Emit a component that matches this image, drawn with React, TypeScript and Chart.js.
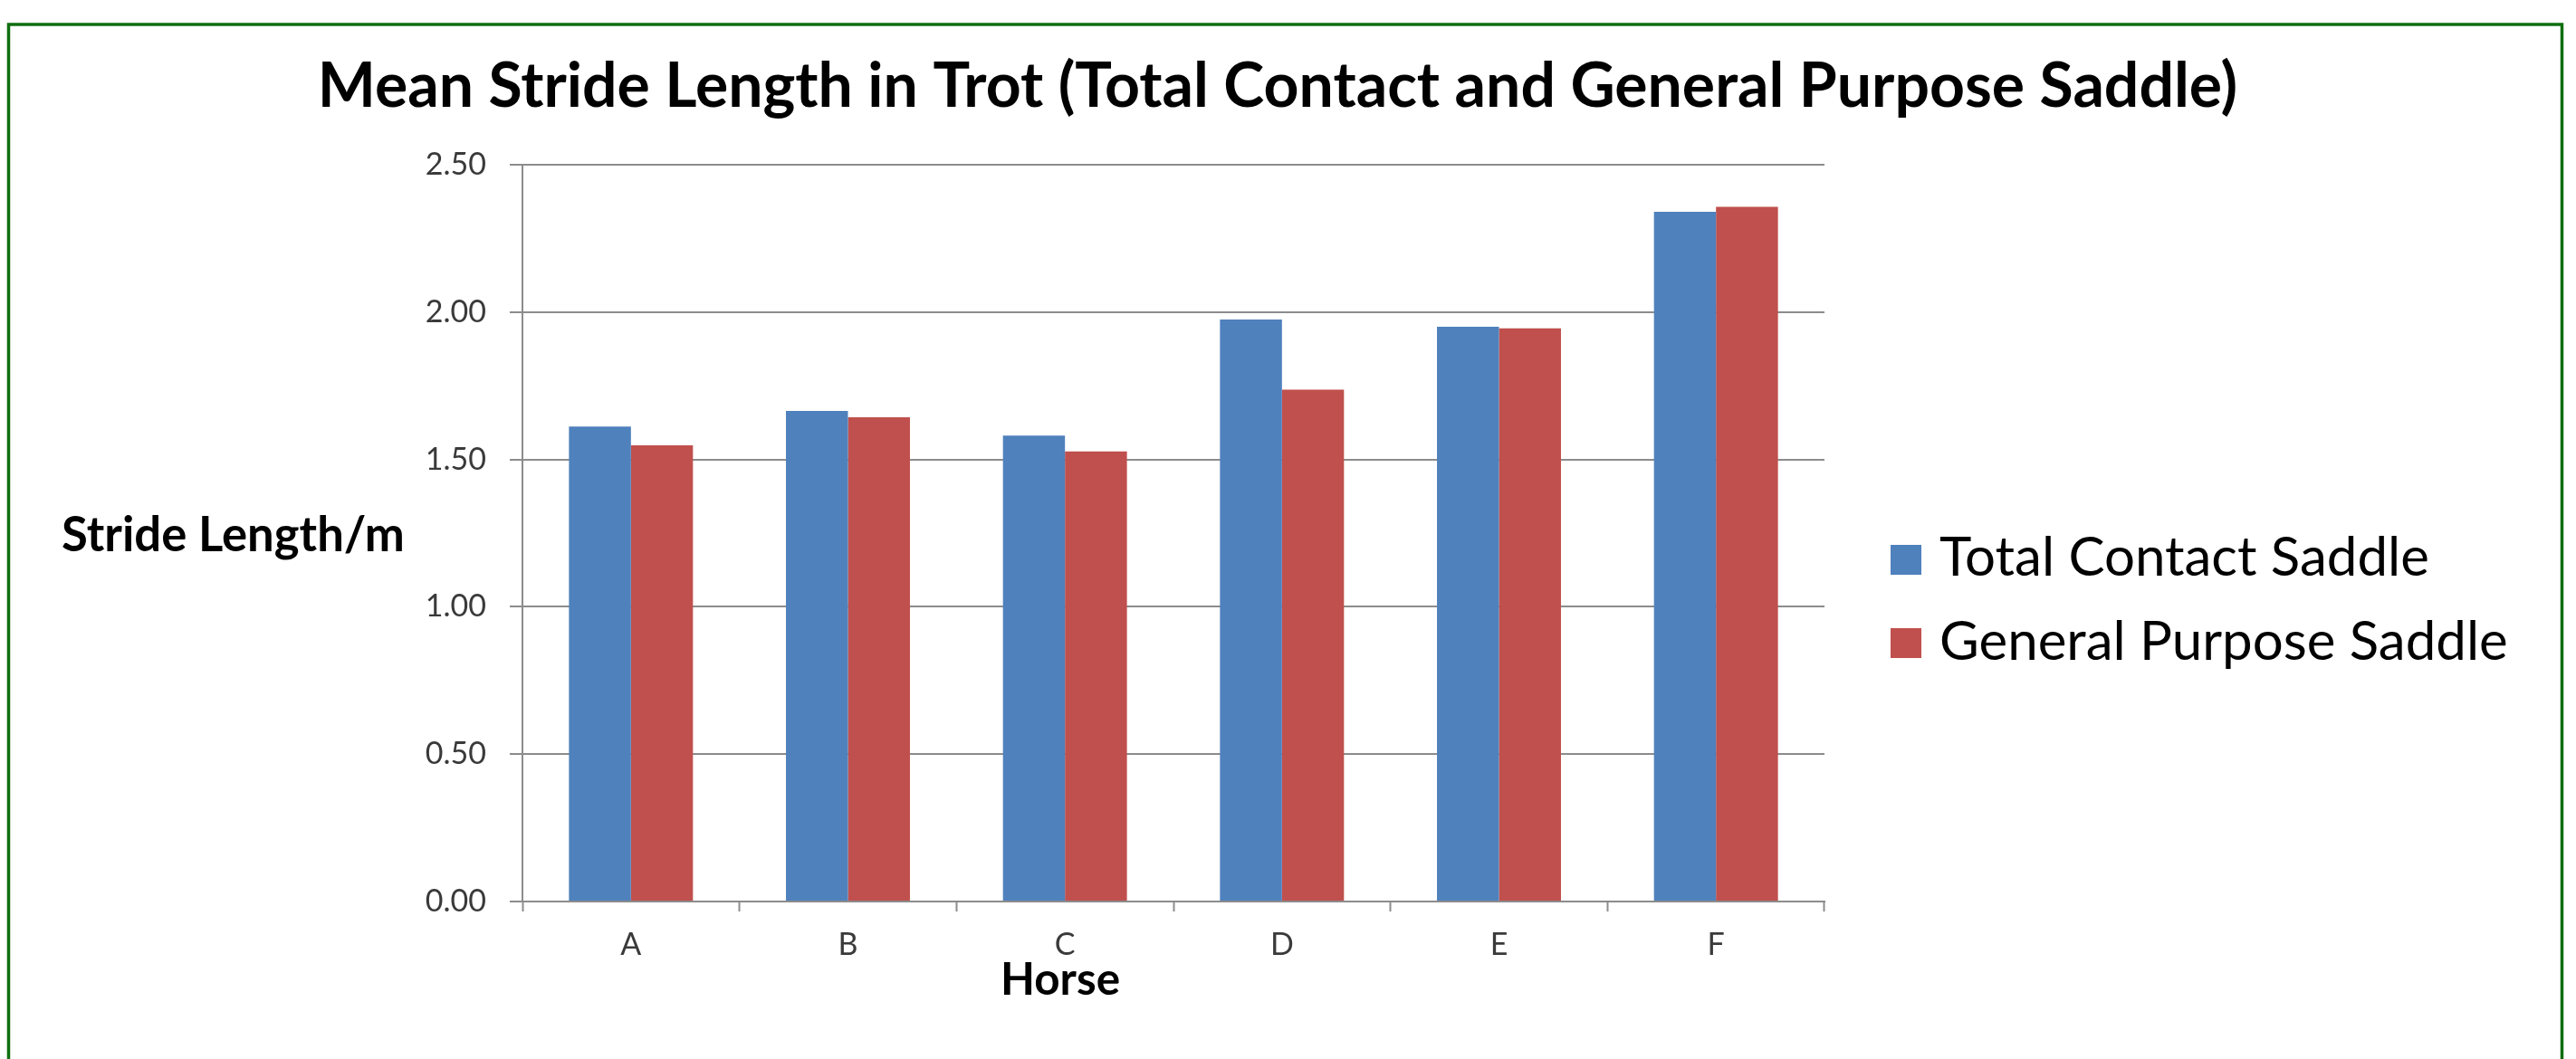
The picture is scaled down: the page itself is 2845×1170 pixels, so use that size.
import React, { useEffect, useRef } from "react";
import { Chart, registerables } from "chart.js";

Chart.register(...registerables);

const TITLE = "Mean Stride Length in Trot (Total Contact and General Purpose Saddle)";
const Y_TITLE = "Stride Length/m";
const X_TITLE = "Horse";
const horses = ["A", "B", "C", "D", "E", "F"];
const seriesNames = ["Total Contact Saddle", "General Purpose Saddle"];
const totalContact = [1.612, 1.665, 1.581, 1.975, 1.95, 2.34];
const generalPurpose = [1.548, 1.643, 1.527, 1.737, 1.945, 2.357];
const seriesColors = ["#4F81BD", "#C0504D"];
const yMin = 0;
const yMax = 2.5;
const yStep = 0.5;

const FONT = "Lato, 'Open Sans', 'DejaVu Sans', sans-serif";

function fitSize(ctx: CanvasRenderingContext2D, text: string, weight: string, target: number) {
  ctx.font = `${weight} 100px ${FONT}`;
  const w = ctx.measureText(text).width;
  return (100 * target) / w;
}

export default function App() {
  const ref = useRef<HTMLCanvasElement>(null);

  useEffect(() => {
    const canvas = ref.current;
    if (!canvas) return;

    const decor = {
      id: "decor",
      beforeDraw(chart: any) {
        const ctx: CanvasRenderingContext2D = chart.ctx;
        ctx.save();
        ctx.fillStyle = "#ffffff";
        ctx.fillRect(0, 0, chart.width, chart.height);
        ctx.strokeStyle = "#0f6e0f";
        ctx.lineWidth = 3.5;
        ctx.strokeRect(9.5, 27, 2820, 1300);
        ctx.restore();
      },
      afterDraw(chart: any) {
        const ctx: CanvasRenderingContext2D = chart.ctx;
        ctx.save();
        ctx.fillStyle = "#000000";
        ctx.textBaseline = "alphabetic";

        // main title
        let s = fitSize(ctx, TITLE, "bold", 2121);
        ctx.font = `bold ${s}px ${FONT}`;
        ctx.textAlign = "center";
        ctx.fillText(TITLE, 1411, 118);

        // y axis title (horizontal)
        s = fitSize(ctx, Y_TITLE, "bold", 379);
        ctx.font = `bold ${s}px ${FONT}`;
        ctx.textAlign = "left";
        ctx.fillText(Y_TITLE, 68, 609);

        // x axis title
        s = fitSize(ctx, X_TITLE, "bold", 132);
        ctx.font = `bold ${s}px ${FONT}`;
        ctx.textAlign = "center";
        ctx.fillText(X_TITLE, 1171, 1099);

        // legend
        const ls = fitSize(ctx, chart.data.datasets[0].label, "normal", 541);
        ctx.font = `normal ${ls}px ${FONT}`;
        ctx.textAlign = "left";
        const rows = [
          { boxTop: 602, base: 636 },
          { boxTop: 694, base: 729 },
        ];
        chart.data.datasets.forEach((ds: any, i: number) => {
          const r = rows[i];
          ctx.fillStyle = ds.backgroundColor;
          ctx.fillRect(2088, r.boxTop, 34, 33);
          ctx.fillStyle = "#000000";
          ctx.fillText(ds.label, 2142, r.base);
        });
        ctx.restore();
      },
    };

    const chart = new Chart(canvas, {
      type: "bar",
      data: {
        labels: horses,
        datasets: [
          {
            label: seriesNames[0],
            data: totalContact,
            backgroundColor: seriesColors[0],
            borderWidth: 0,
            categoryPercentage: 2 / 3.5,
            barPercentage: 1,
          },
          {
            label: seriesNames[1],
            data: generalPurpose,
            backgroundColor: seriesColors[1],
            borderWidth: 0,
            categoryPercentage: 2 / 3.5,
            barPercentage: 1,
          },
        ],
      },
      options: {
        animation: false,
        responsive: false,
        devicePixelRatio: 1,
        events: [],
        layout: { padding: { left: 0, right: 2845 - 2015, top: 182, bottom: 0 } },
        plugins: {
          legend: { display: false },
          title: { display: false },
          tooltip: { enabled: false },
        },
        scales: {
          x: {
            offset: true,
            afterFit: (scale: any) => {
              scale.height = 1170 - 996;
            },
            grid: {
              offset: true,
              drawOnChartArea: false,
              drawTicks: true,
              tickLength: 11,
              tickColor: "#8c8c8c",
              tickWidth: 2,
            },
            border: { display: true, color: "#8c8c8c", width: 2 },
            ticks: {
              color: "#3a3a3a",
              padding: 17,
              font: { family: FONT, size: 34 },
            },
          },
          y: {
            min: yMin,
            max: yMax,
            afterFit: (scale: any) => {
              scale.width = 577;
            },
            grid: {
              color: "#8c8c8c",
              lineWidth: 2,
              drawTicks: true,
              tickLength: 14,
              tickColor: "#8c8c8c",
              tickWidth: 2,
            },
            border: { display: true, color: "#8c8c8c", width: 2 },
            ticks: {
              stepSize: yStep,
              color: "#3a3a3a",
              padding: 26,
              font: { family: FONT, size: 34 },
              callback: (v: any) => Number(v).toFixed(2),
            },
          },
        },
      },
      plugins: [decor],
    } as any);

    return () => chart.destroy();
  }, []);

  return (
    <div style={{ position: "absolute", left: 0, top: 0, width: 2845, height: 1170, overflow: "hidden" }}>
      <canvas ref={ref} width={2845} height={1170} style={{ display: "block" }} />
    </div>
  );
}
